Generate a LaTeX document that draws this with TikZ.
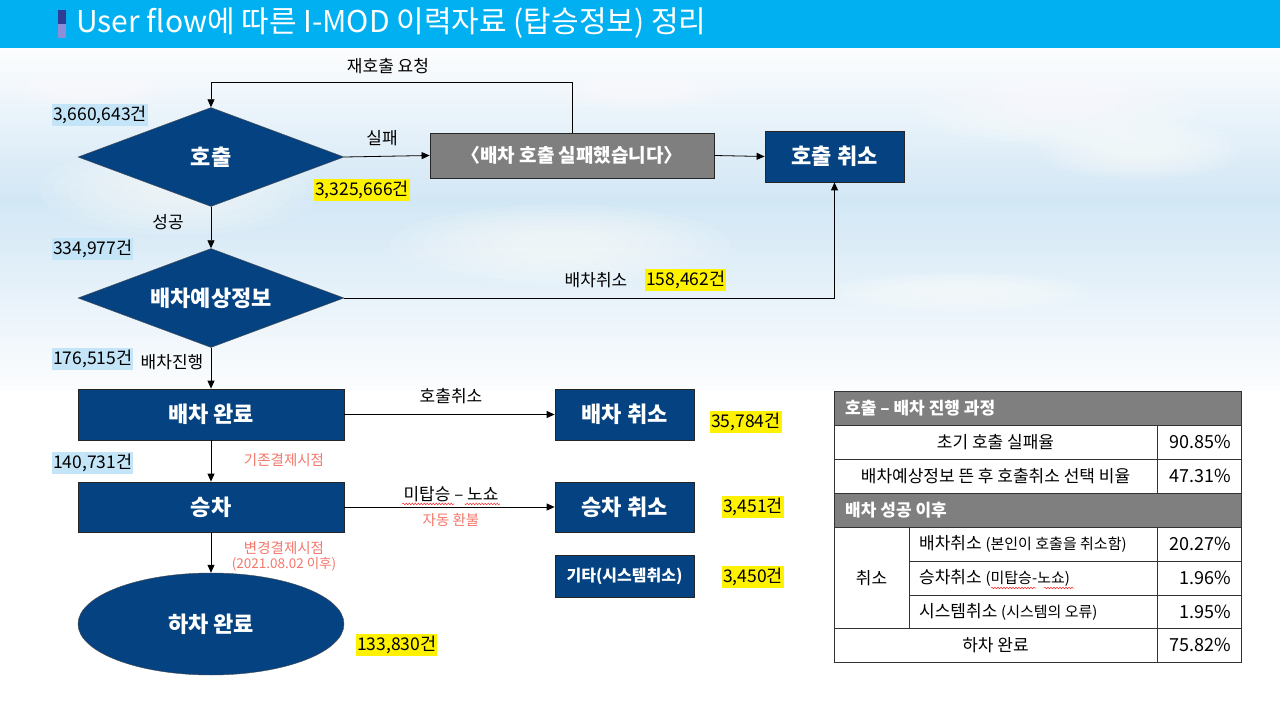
\documentclass[tikz,border=0pt]{standalone}
\usepackage{fontspec}
\setmainfont{Noto Sans CJK KR}
\usetikzlibrary{shapes.geometric,arrows.meta,positioning,decorations.pathmorphing}

\definecolor{navy}{HTML}{044282}
\definecolor{titlebar}{HTML}{00B0F0}
\definecolor{failgray}{HTML}{7F7F7F}
\definecolor{cntblue}{HTML}{C4E4F7}
\definecolor{salmon}{HTML}{F4786C}
\definecolor{skyblue}{HTML}{D2E7F5}
\definecolor{skypale}{HTML}{FCFDFE}
\definecolor{markdark}{HTML}{2E3C94}
\definecolor{marklight}{HTML}{8C8FD8}

\newcommand\fsz[1]{\fontsize{#1}{#1}\selectfont}

\tikzset{
  flow/.style={-{Triangle[length=8pt,width=7pt]}, line width=0.8pt},
  dec/.style={diamond, aspect=2.69, fill=navy, draw=black!70, minimum width=266pt, minimum height=99pt,
      inner sep=0pt, text=white, font=\bfseries\fsz{22}},
  proc/.style={rectangle, fill=navy, draw=black!85, line width=0.8pt, text=white,
      font=\bfseries\fsz{22}},
  cnt/.style={anchor=west, fill=cntblue, inner xsep=1pt, inner ysep=2.5pt, font=\fsz{17.5}},
  hit/.style={anchor=west, fill=yellow, inner xsep=1pt, inner ysep=2.5pt, font=\fsz{17.5}},
  lbl/.style={font=\fsz{17}, inner sep=1pt},
  note/.style={text=salmon, font=\fsz{14.5}, inner sep=1pt},
  cell/.style={font=\fsz{17}, inner sep=0pt},
  squig/.style={red!85, line width=0.5pt, decorate, decoration={snake, amplitude=0.8pt, segment length=3pt}},
}

\begin{document}
\begin{tikzpicture}[x=1pt,y=-1pt]
    \useasboundingbox (0,0) rectangle (1280,703);

    % sky background
    \fill[white] (0,0) rectangle (1280,703);
    \shade[top color=skypale, bottom color=skyblue] (0,48) rectangle (1280,200);
    \shade[top color=skyblue, bottom color=skypale] (0,200) rectangle (1280,390);
    \foreach \x/\y/\rx/\ry in {1060/110/140/38, 1140/150/100/30, 180/190/140/45, 560/245/170/40,
        960/292/130/20, 90/90/80/20, 640/92/90/18} {
        \foreach \k in {0,...,7} {
            \fill[white, opacity=0.1] (\x,\y) ellipse ({\rx*(1-0.1*\k)} and {\ry*(1-0.1*\k)});
          }
      }

    % title
    \fill[titlebar] (0,0) rectangle (1280,48);
    \fill[markdark] (58,10) rectangle (66,24);
    \fill[marklight] (58,24) rectangle (66,38);
    \node[anchor=west, text=white, font=\fsz{30}, inner sep=0pt] (title) at (76,23)
      {User flow에 따른 I-MOD 이력자료 (탑승정보) 정리};

    % flow chart
    \node[dec] (call) at (211,157) {호출};
    \node[dec] (est) at (211,298) {배차예상정보};
    \node[proc, fill=failgray, minimum width=284pt, minimum height=45pt, font=\bfseries\fsz{19}]
      (fail) at (572,155.5) {〈배차 호출 실패했습니다〉};
    \node[proc, minimum width=139pt, minimum height=51pt] (callx) at (834.5,156.5) {호출 취소};
    \node[proc, minimum width=266pt, minimum height=51pt] (disp) at (211,414.5) {배차 완료};
    \node[proc, minimum width=139pt, minimum height=51pt] (dispx) at (624.5,414.5) {배차 취소};
    \node[proc, minimum width=266pt, minimum height=50pt] (ride) at (211,507) {승차};
    \node[proc, minimum width=139pt, minimum height=50pt] (ridex) at (624.5,507) {승차 취소};
    \node[proc, minimum width=139pt, minimum height=42pt, font=\bfseries\fsz{16}]
      (etc) at (624.5,576) {기타(시스템취소)};
    \node[ellipse, fill=navy, draw=black!70, minimum width=266pt, minimum height=102pt,
      text=white, font=\bfseries\fsz{22}] (done) at (211,624) {하차 완료};

    \coordinate (rt) at (0,82);
    \draw[flow] (fail.north) -- (fail.north |- rt) -| (call.north);
    \draw[flow] (call.east) -- (fail.west);
    \draw[flow] (fail.east) -- (callx.west);
    \draw[flow] (call.south) -- (est.north);
    \draw[flow] (est.east) -| (callx.south);
    \draw[flow] (est.south) -- (disp.north);
    \draw[flow] (disp.east) -- (dispx.west);
    \draw[flow] (disp.south) -- (ride.north);
    \draw[flow] (ride.east) -- (ridex.west);
    \draw[flow] (ride.south) -- (done.north);

    % connector labels
    \node[lbl] (lretry) at (388,66) {재호출 요청};
    \node[lbl] (lfail) at (382,138) {실패};
    \node[lbl] (lok) at (168,222) {성공};
    \node[lbl] (lcan) at (596,280) {배차취소};
    \node[lbl] (lgo) at (172,362) {배차진행};
    \node[lbl] (lcall) at (451,396) {호출취소};
    \node[lbl] (lnos) at (451,494) {미탑승 – 노쇼};
    \draw[squig] ([yshift=-1pt]lnos.south west) -- ++(52,0);
    \draw[squig] ([yshift=-1pt]lnos.south east) -- ++(-35,0);
    \node[note] (lref) at (451,520) {자동 환불};
    \node[note] (lold) at (284,460) {기존결제시점};
    \node[note] (lnew) at (284,548) {변경결제시점};
    \node[note, font=\fsz{13.5}] (ldate) at (284,564) {(2021.08.02 이후)};

    % counts
    \foreach \n/\x/\y/\t in {c1/52/115/{3,660,643건}, c2/52/249/{334,977건},
        c3/52/359/{176,515건}, c4/52/463/{140,731건}} {
        \node[cnt] (\n) at (\x,\y) {\t};
      }
    \foreach \n/\x/\y/\t in {h1/314/190/{3,325,666건}, h2/645/280/{158,462건},
        h3/710/422/{35,784건}, h4/722/507/{3,451건}, h5/722/577/{3,450건},
        h6/356/645/{133,830건}} {
        \node[hit] (\n) at (\x,\y) {\t};
      }

    % summary table
    \fill[white] (834,391) rectangle (1241,662);
    \fill[failgray] (834,391) rectangle (1241,425);
    \fill[failgray] (834,493) rectangle (1241,527);
    \foreach \y in {425,459,493,527,628} {
        \draw[black!80] (834,\y) -- (1241,\y);
      }
    \foreach \y in {561,595} {
        \draw[black!80] (909,\y) -- (1241,\y);
      }
    \draw[black!80] (1157,425) -- (1157,493);
    \draw[black!80] (1157,527) -- (1157,662);
    \draw[black!80] (909,527) -- (909,628);
    \draw[black!80] (834,391) rectangle (1241,662);

    \node[cell, anchor=west, text=white, font=\bfseries\fsz{17}] (th1) at (845,408) {호출 – 배차 진행 과정};
    \node[cell, anchor=west, text=white, font=\bfseries\fsz{17}] (th2) at (845,510) {배차 성공 이후};
    \node[cell] (t1) at (995.5,442) {초기 호출 실패율};
    \node[cell] (t2) at (995.5,476) {배차예상정보 뜬 후 호출취소 선택 비율};
    \node[cell] (tc) at (871.5,578) {취소};
    \node[cell, anchor=west] (t3) at (919,544) {배차취소 {\fsz{15}(본인이 호출을 취소함)}};
    \node[cell, anchor=west] (t4) at (919,578) {승차취소 {\fsz{15}(미탑승-노쇼)}};
    \node[cell, anchor=west] (t5) at (919,612) {시스템취소 {\fsz{15}(시스템의 오류)}};
    \node[cell] (t6) at (995.5,645) {하차 완료};
    \draw[squig] (991,588) -- ++(45,0);
    \draw[squig] (1044,588) -- ++(30,0);
    \foreach \n/\y/\v in {v1/442/90.85\%, v2/476/47.31\%, v3/544/20.27\%,
        v4/578/1.96\%, v5/612/1.95\%, v6/645/75.82\%} {
        \node[cell, anchor=east, font=\fsz{18}] (\n) at (1231,\y) {\v};
      }
\end{tikzpicture}
\end{document}
